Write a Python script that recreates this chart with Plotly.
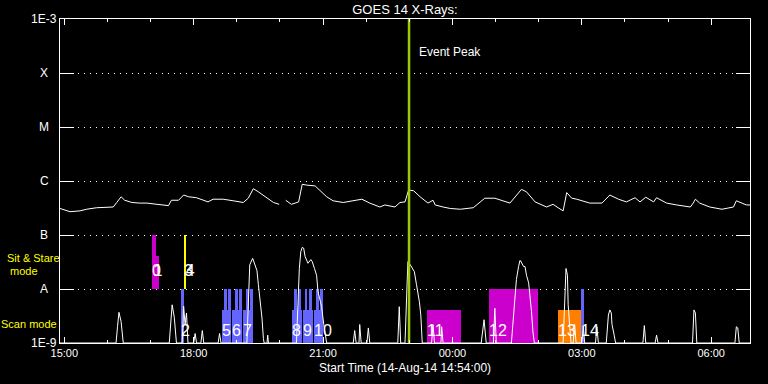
import numpy as np
import pandas as pd
import plotly.graph_objects as go

START = pd.Timestamp("2014-08-14 14:54:00")

# GOES 14 long channel (1-8 A), minutes after start / flux (W/m^2); None = data gap
long_min = [0, 14, 28, 37, 51, 74, 79, 85, 90, 100, 111, 121, 135, 151, 155, 165, 172, 179, 190, 199,
            206, 213, 227, 241, 255, 262, 269, 276, 288, 297, 305, 309, 314, 322, 332, 337, 343, 355,
            371, 380, 394, 408, 420, 431, 445, 452, 466, 473, 480, 485, 492, 501, 512, 519, 522, 533,
            543, 557, 575, 591, 605, 626, 642, 649, 661, 677, 686, 693, 700, 705, 712, 719, 737, 754,
            765, 777, 788, 800, 807, 815, 826, 830, 844, 858, 877, 881, 884, 890, 904, 921, 937, 941,
            948, 955, 960]
long_flux = [3.1e-7, 2.7e-7, 2.8e-7, 3.0e-7, 3.2e-7, 3.3e-7, 4.0e-7, 5.1e-7, 4.4e-7, 4.0e-7, 3.9e-7,
             3.9e-7, 3.7e-7, 3.5e-7, 4.4e-7, 4.4e-7, 5.5e-7, 5.1e-7, 4.9e-7, 4.4e-7, 4.1e-7, 4.6e-7,
             4.6e-7, 4.3e-7, 4.0e-7, 4.8e-7, 7.2e-7, 6.3e-7, 4.8e-7, 4.0e-7, 3.7e-7, None, 4.4e-7,
             3.7e-7, 4.1e-7, 8.7e-7, 8.4e-7, 8.1e-7, 5.1e-7, 4.3e-7, 4.0e-7, 4.3e-7, 4.6e-7, 3.9e-7,
             3.3e-7, 3.6e-7, 3.3e-7, 4.0e-7, 4.1e-7, 6.8e-7, 6.6e-7, 5.1e-7, 3.9e-7, 4.4e-7, 3.6e-7,
             3.3e-7, 3.1e-7, 3.0e-7, 3.2e-7, 4.8e-7, 4.8e-7, 3.9e-7, 7.0e-7, 6.3e-7, 4.1e-7, 3.3e-7,
             3.7e-7, 3.2e-7, 2.8e-7, 6.1e-7, 4.8e-7, 4.6e-7, 3.9e-7, 3.9e-7, 5.5e-7, 4.6e-7, 4.1e-7,
             4.9e-7, 4.1e-7, 5.0e-7, 4.1e-7, 4.9e-7, 3.9e-7, 3.6e-7, 3.3e-7, 3.9e-7, 4.6e-7, 3.9e-7,
             3.3e-7, 3.0e-7, 3.3e-7, 4.3e-7, 4.0e-7, 3.6e-7, 3.6e-7]

# GOES 14 short channel (0.5-4 A)
short_min = [0, 78, 80, 82, 85, 88, 152, 154, 156, 159, 162, 170, 172, 174, 176, 178, 186, 188, 190,
             196, 198, 200, 220, 222, 224, 260, 262, 264, 268, 271, 274, 276, 278, 281, 283, 284, 288,
             289, 290, 329, 333, 335, 337, 339, 341, 345, 349, 351, 354, 357, 359, 364, 367, 370, 371,
             408, 410, 412, 416, 417, 419, 427, 429, 431, 470, 472, 474, 480, 484, 486, 489, 493, 496,
             500, 502, 504, 517, 519, 521, 530, 531, 533, 586, 590, 593, 603, 605, 607, 628, 633, 635,
             638, 640, 641, 645, 647, 649, 652, 654, 656, 658, 660, 700, 704, 706, 707, 709, 711, 714,
             716, 718, 726, 728, 730, 745, 747, 749, 760, 763, 765, 767, 768, 771, 773, 811, 813, 815,
             828, 830, 832, 880, 882, 884, 886, 939, 941, 943, 945, 960]
short_flux = [1e-9, 1e-9, 2.0e-9, 3.7e-9, 2.5e-9, 1e-9, 1e-9, 2.5e-9, 5.1e-9, 3.0e-9, 1e-9, 1e-9,
              4.8e-9, 2.2e-9, 3.6e-9, 1e-9, 1e-9, 1.5e-9, 1e-9, 1e-9, 1.7e-9, 1e-9, 1e-9, 1.5e-9,
              1e-9, 1e-9, 8.9e-9, 2.8e-8, 3.7e-8, 2.8e-8, 2.2e-8, 1.2e-8, 7.0e-9, 2.9e-9, 1.2e-9,
              1e-9, 1e-9, 1.4e-9, 1e-9, 1e-9, 2.4e-8, 4.9e-8, 5.9e-8, 5.7e-8, 4.0e-8, 3.0e-8, 3.5e-8,
              3.2e-8, 2.4e-8, 1.8e-8, 8.9e-9, 4.7e-9, 2.2e-9, 1.2e-9, 1e-9, 1e-9, 1.7e-9, 1e-9, 1e-9,
              2.2e-9, 1e-9, 1e-9, 1.9e-9, 1e-9, 1e-9, 4.7e-9, 1e-9, 1e-9, 3.2e-8, 3.0e-8, 2.6e-8,
              2.1e-8, 1.2e-8, 5.8e-9, 3.3e-9, 1e-9, 1e-9, 2.2e-9, 1e-9, 1e-9, 2.0e-9, 1e-9, 1e-9,
              2.7e-9, 1e-9, 1e-9, 4.4e-9, 1e-9, 1e-9, 8.9e-9, 1.5e-8, 2.6e-8, 3.4e-8, 3.3e-8, 2.6e-8,
              2.6e-8, 1.8e-8, 1.3e-8, 7.2e-9, 3.8e-9, 1.6e-9, 1e-9, 1e-9, 2.4e-8, 1.8e-8, 5.1e-9,
              2.2e-9, 1e-9, 1e-9, 2.2e-9, 1e-9, 1e-9, 2.0e-9, 1e-9, 1e-9, 2.0e-9, 1e-9, 1e-9, 3.3e-9,
              4.1e-9, 3.6e-9, 2.2e-9, 1.4e-9, 1e-9, 1e-9, 2.1e-9, 1e-9, 1e-9, 1.4e-9, 1e-9, 1e-9,
              4.1e-9, 3.6e-9, 1e-9, 1e-9, 2.0e-9, 1.9e-9, 1e-9, 1e-9]

# Observations (minutes after start)
obs_label = ["0", "1", "2", "3", "4", "5", "6", "7", "8", "9", "10", "11", "12", "13", "14"]
obs_mode = ["sit", "sit", "scan", "sit", "sit", "scan", "scan", "scan", "scan", "scan", "scan",
            "scan", "scan", "scan", "scan"]
obs_start = [128.0, 130.0, 168.3, 172.5, 175.0, 225.4, 239.3, 254.6, 322.8, 338.1, 353.4, 510.6,
             596.9, 692.9, 724.9]
obs_end = [137.7, 133.6, 172.5, 175.3, 175.3, 237.9, 253.2, 268.5, 336.7, 352.0, 365.9, 557.9,
           665.0, 724.9, 729.0]
obs_top = [4.1e-8, 1e-7, 1e-8, 1e-7, 1e-7, 4.1e-9, 4.1e-9, 4.1e-9, 4.1e-9, 4.1e-9, 4.1e-9, 4.1e-9,
           1e-8, 4.1e-9, 1e-8]
obs_color = ["#cc00cc", "#cc00cc", "#6464ff", "#ffff00", "#ffff00", "#6464ff", "#6464ff", "#6464ff",
             "#6464ff", "#6464ff", "#6464ff", "#cc00cc", "#cc00cc", "#ff8000", "#6464ff"]

# full-height raster segments inside scan observations 5-10
seg_start = [228.2, 233.7, 243.5, 249.0, 258.8, 264.3, 325.6, 331.1, 340.9, 346.4, 356.2, 361.7]
seg_end = [232.3, 237.9, 247.6, 253.2, 263.0, 268.5, 329.7, 335.3, 344.3, 350.6, 360.3, 365.9]

event_peak_min = 485.6

ytick_vals = [1e-9, 1e-8, 1e-7, 1e-6, 1e-5, 1e-4, 1e-3]
ytick_text = ["1E-9", "A", "B", "C", "M", "X", "1E-3"]

BAND_BASE = {"sit": 1e-8, "scan": 1e-9}
LABEL_Y = {"sit": 2.07e-8, "scan": 1.6e-9}


def t(mins):
    return [START + pd.Timedelta(minutes=float(m)) for m in mins]


fig = go.Figure()

# observation bars (sit & stare obs 1 full-height part spans the left of obs 0)
for i, (s, e, top, mode, col) in enumerate(zip(obs_start, obs_end, obs_top, obs_mode, obs_color)):
    base = BAND_BASE[mode]
    s_draw = obs_start[0] if i == 1 else s
    e_draw = e
    fig.add_trace(go.Bar(x=t([(s_draw + e_draw) / 2]), y=[top - base], base=[base],
                         width=[(e_draw - s_draw) * 60000],
                         marker=dict(color=col, line=dict(width=0)), showlegend=False))
for s, e in zip(seg_start, seg_end):
    fig.add_trace(go.Bar(x=t([(s + e) / 2]), y=[1e-8 - 1e-9], base=[1e-9], width=[(e - s) * 60000],
                         marker=dict(color="#6464ff", line=dict(width=0)), showlegend=False))

# labels
fig.add_trace(go.Scatter(x=t(obs_start), y=[LABEL_Y[m] for m in obs_mode], mode="text",
                         text=obs_label, textposition="middle right",
                         textfont=dict(color="white", size=16, family="Liberation Sans"),
                         showlegend=False))

# flux curves
fig.add_trace(go.Scatter(x=t(long_min), y=long_flux, mode="lines", line=dict(color="white", width=1),
                         connectgaps=False, showlegend=False))
fig.add_trace(go.Scatter(x=t(short_min), y=short_flux, mode="lines", line=dict(color="white", width=1),
                         showlegend=False))

# event peak
fig.add_trace(go.Scatter(x=t([event_peak_min, event_peak_min]), y=[1e-9, 1e-3], mode="lines",
                         line=dict(color="#9acd00", width=2.5), showlegend=False))

annotations = []
for v, txt in zip(ytick_vals, ytick_text):
    annotations.append(dict(x=-16 / 690, xref="paper", y=np.log10(v), yref="y", text=txt,
                            showarrow=False, xanchor="center", yanchor="middle",
                            font=dict(color="white", size=12, family="Liberation Sans")))
annotations.append(dict(x=t([event_peak_min])[0], xref="x", y=(343 - 43) / 324, yref="paper",
                        text="Event Peak", showarrow=False, xanchor="left", xshift=8,
                        font=dict(color="white", size=12, family="Liberation Sans")))
for txt, cx, cy, fs in [("Sit & Stare", 33, 258, 11), ("mode", 24, 271, 11), ("Scan mode", 29, 324, 11)]:
    annotations.append(dict(x=(cx - 60) / 690, xref="paper", y=(343 - cy) / 324, yref="paper",
                            text=txt, showarrow=False, xanchor="center", yanchor="middle",
                            font=dict(color="#ffff00", size=fs, family="Liberation Sans")))
annotations.append(dict(x=0.5, xref="paper", y=(343 - 368) / 324, yref="paper",
                        text="Start Time (14-Aug-14 14:54:00)", showarrow=False,
                        xanchor="center", yanchor="middle",
                        font=dict(color="white", size=12, family="Liberation Sans")))

fig.update_layout(
    width=768, height=384,
    margin=dict(l=60, r=18, t=19, b=41),
    paper_bgcolor="black", plot_bgcolor="black",
    barmode="overlay", bargap=0,
    title=dict(text="GOES 14 X-Rays:", x=0.5, xref="paper", xanchor="center",
               y=1 - 9 / 384, yref="container", yanchor="middle",
               font=dict(color="white", size=13, family="Liberation Sans")),
    annotations=annotations,
    font=dict(color="white", family="Liberation Sans"),
)
fig.update_xaxes(
    type="date", range=[START, START + pd.Timedelta(hours=16)],
    tickformat="%H:%M", tick0="2014-08-14 15:00:00", dtick=3 * 3600000,
    ticks="inside", ticklen=6, tickcolor="white", tickwidth=1,
    minor=dict(dtick=3600000, tick0="2014-08-14 15:00:00", ticks="inside", ticklen=3,
               tickcolor="white"),
    showline=True, linecolor="white", linewidth=1, mirror="ticks",
    showgrid=False, zeroline=False,
    tickfont=dict(color="white", size=11, family="Liberation Sans"),
)
fig.update_yaxes(
    type="log", range=[-9, -3], tickvals=ytick_vals, showticklabels=False,
    ticks="inside", ticklen=14, tickcolor="white", tickwidth=1,
    showline=True, linecolor="white", linewidth=1, mirror="ticks",
    showgrid=True, gridcolor="white", gridwidth=1, griddash="1px,5px", zeroline=False,
)

fig.write_html("out.html", config={"displayModeBar": False},
               post_script="document.body.style.margin='0';document.body.style.background='black';")
